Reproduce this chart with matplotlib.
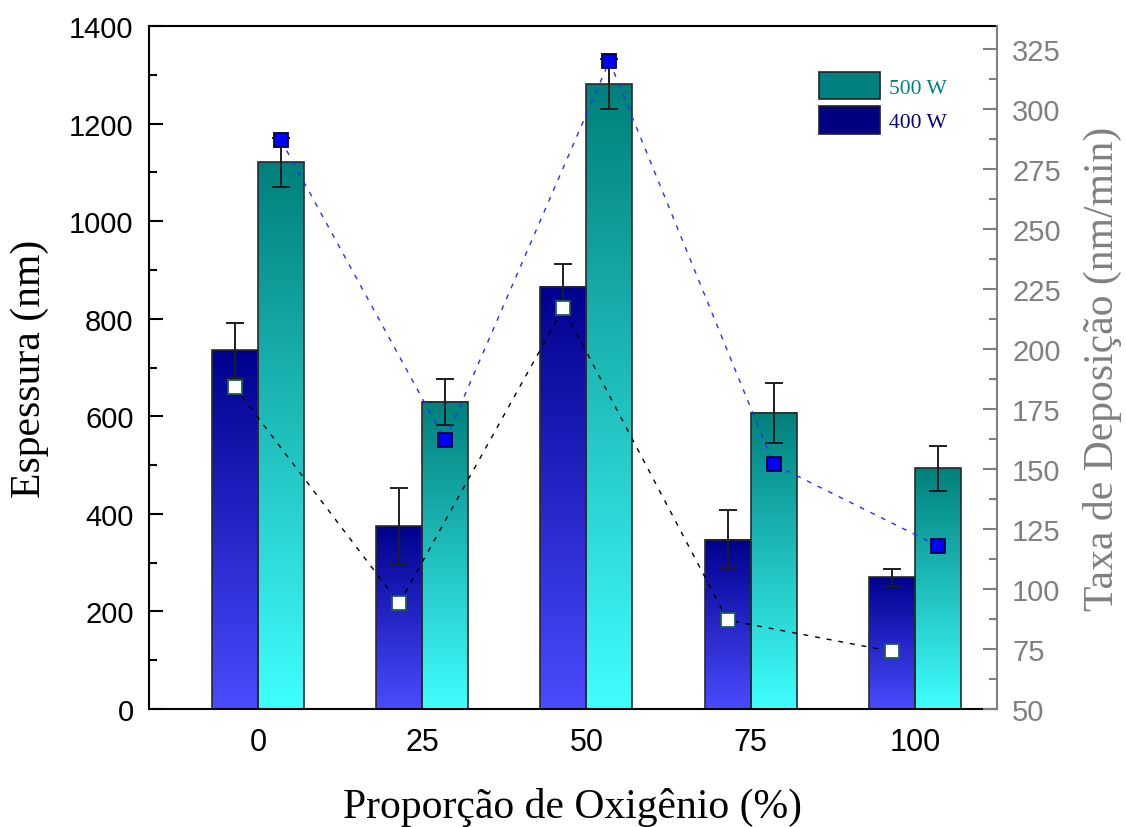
import numpy as np
import matplotlib
matplotlib.use("Agg")
import matplotlib.pyplot as plt
from matplotlib.colors import LinearSegmentedColormap
from matplotlib.patches import Patch
from matplotlib.ticker import MultipleLocator

# Espessura (nm) e taxa de deposicao (nm/min) por proporcao de O2
categorias = ['0', '25', '50', '75', '100']
esp_400 = [735, 375, 865, 347, 270]
err_400 = [57, 77, 47, 60, 18]
esp_500 = [1121, 630, 1281, 607, 493]
err_500 = [50, 47, 52, 62, 46]
taxa_400 = [184, 94, 217, 87, 74]
taxa_500 = [287, 162, 320, 152, 118]

serif = 'Liberation Serif'
sans = 'Liberation Sans'
cinza = '#808080'

fig = plt.figure(figsize=(11.26, 8.28), dpi=100)
ax = fig.add_axes([0.1323, 0.1425, 0.7531, 0.8249])
ax2 = ax.twinx()

x = np.arange(len(categorias))
w = 0.28
cmap_400 = LinearSegmentedColormap.from_list('c400', ['#4b4bff', '#00008e'])
cmap_500 = LinearSegmentedColormap.from_list('c500', ['#40ffff', '#00807c'])
grad = np.linspace(0, 1, 256).reshape(-1, 1)


def barra_gradiente(xc, h, cmap):
    x0, x1 = xc - w / 2, xc + w / 2
    ax.imshow(grad, extent=[x0, x1, 0, h], origin='lower', cmap=cmap,
              aspect='auto', interpolation='bilinear', zorder=1)
    ax.bar(xc, h, width=w, facecolor='none', edgecolor='#2a2a2a',
           linewidth=1.2, zorder=2)


for i in range(len(categorias)):
    barra_gradiente(x[i] - w / 2, esp_400[i], cmap_400)
    barra_gradiente(x[i] + w / 2, esp_500[i], cmap_500)

eb = dict(fmt='none', ecolor='#1e1e1e', elinewidth=1.4, capsize=6.5,
          capthick=1.4, zorder=3)
ax.errorbar(x - w / 2, esp_400, yerr=err_400, **eb)
ax.errorbar(x + w / 2, esp_500, yerr=err_500, **eb)

ax.set_xlim(-0.664, 4.5)
ax.set_ylim(0, 1400)
ax.yaxis.set_major_locator(MultipleLocator(200))
ax.yaxis.set_minor_locator(MultipleLocator(100))
ax.set_xticks(x)
ax.set_xticklabels(categorias)
ax.tick_params(axis='x', length=0, pad=13, labelsize=22)
ax.tick_params(axis='y', which='major', direction='in', length=10, width=1.5,
               pad=11, labelsize=21)
ax.tick_params(axis='y', which='minor', direction='in', length=5.5, width=1.5)
for lab in ax.get_xticklabels() + ax.get_yticklabels():
    lab.set_fontfamily(sans)
for s in ['left', 'bottom', 'top']:
    ax.spines[s].set_linewidth(1.5)
ax.spines['right'].set_visible(False)

ax.set_xlabel('Proporção de Oxigênio (%)', fontsize=30, family=serif)
ax.set_ylabel('Espessura (nm)', fontsize=30, family=serif)
ax.xaxis.set_label_coords(0.499, -0.114)
ax.yaxis.set_label_coords(-0.118, 0.5)

# taxa de deposicao no eixo da direita
ax2.plot(x - w / 2, taxa_400, ls=(0, (3.5, 5)), color='black', lw=1,
         marker='s', ms=10, mfc='white', mec='#1d5e55', mew=1.3)
ax2.plot(x + w / 2, taxa_500, ls=(0, (3.5, 5)), color='#2b2bff', lw=1,
         marker='s', ms=10, mfc='#0000ff', mec='#00003c', mew=1.3)
ax2.set_ylim(50, 334.6)
ax2.yaxis.set_major_locator(MultipleLocator(25))
ax2.yaxis.set_minor_locator(MultipleLocator(12.5))
ax2.tick_params(axis='y', which='major', direction='in', length=10, width=1.5,
                pad=11, labelsize=21, color=cinza, labelcolor=cinza)
ax2.tick_params(axis='y', which='minor', direction='in', length=5.5,
                width=1.5, color=cinza)
for lab in ax2.get_yticklabels():
    lab.set_fontfamily(sans)
for s in ['left', 'bottom', 'top']:
    ax2.spines[s].set_visible(False)
ax2.spines['right'].set_color(cinza)
ax2.spines['right'].set_linewidth(1.5)
ax2.set_ylabel('Taxa de Deposição (nm/min)', fontsize=30, family=serif,
               color=cinza)
ax2.yaxis.set_label_coords(1.101, 0.5)

handles = [Patch(facecolor='#008080', edgecolor='#222222', linewidth=1.2),
           Patch(facecolor='#000080', edgecolor='#222222', linewidth=1.2)]
leg = ax2.legend(handles, ['500 W', '400 W'], loc='upper left',
                 bbox_to_anchor=(0.790, 0.933), frameon=False,
                 prop={'family': serif, 'size': 15.5}, handlelength=2.85,
                 handleheight=1.6, handletextpad=0.4, labelspacing=0.3,
                 borderpad=0, borderaxespad=0)
for txt, c in zip(leg.get_texts(), ['#008080', '#000080']):
    txt.set_color(c)

fig.savefig('out.png', dpi=100)
